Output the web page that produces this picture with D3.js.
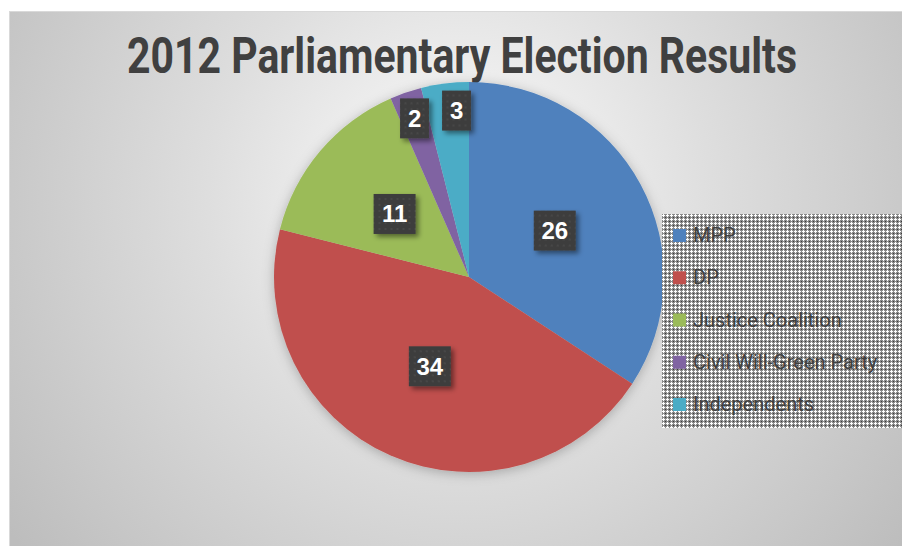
<!DOCTYPE html>
<html>
<head>
<meta charset="utf-8">
<script src="https://cdn.jsdelivr.net/npm/d3@7"></script>
<style>
  body { margin: 0; background: #fff; }
  svg { display: block; }
  .title { font-family: "Liberation Sans Narrow", "Roboto", sans-serif; font-weight: bold; fill: #404040; }
  .legendText { font-family: "Liberation Sans Narrow", "Roboto", sans-serif; fill: #404040; }
  .labelText { font-family: "Liberation Sans", "Roboto", sans-serif; font-weight: bold; fill: #fff; }
</style>
</head>
<body>
<div id="chart"></div>
<script>
// chart data
var parties = ["MPP", "DP", "Justice Coalition", "Civil Will-Green Party", "Independents"];
var seats = [26, 34, 11, 2, 3];
var partyColors = ["#4f81bd", "#c0504d", "#9bbb59", "#8064a2", "#4bacc6"];
var chartTitle = "2012 Parliamentary Election Results";

var svgWidth = 902;
var svgHeight = 546;

var svg = d3.select("#chart")
  .append("svg")
  .attr("width", svgWidth)
  .attr("height", svgHeight);

var defs = svg.append("defs");

// background gradient
var bg = defs.append("radialGradient")
  .attr("id", "bgGrad")
  .attr("gradientUnits", "userSpaceOnUse")
  .attr("cx", 460).attr("cy", 200).attr("r", 560);
bg.append("stop").attr("offset", "0%").attr("stop-color", "#fdfdfd");
bg.append("stop").attr("offset", "45%").attr("stop-color", "#dedede");
bg.append("stop").attr("offset", "100%").attr("stop-color", "#bdbdbd");

// legend dither pattern
var pat = defs.append("pattern")
  .attr("id", "dither")
  .attr("patternUnits", "userSpaceOnUse")
  .attr("width", 4).attr("height", 4);
pat.append("rect").attr("width", 4).attr("height", 4).attr("fill", "#8a8a8a");
pat.append("rect").attr("x", 1).attr("y", 0).attr("width", 1).attr("height", 3).attr("fill", "#fff");
pat.append("rect").attr("x", 0).attr("y", 1).attr("width", 3).attr("height", 1).attr("fill", "#fff");
pat.append("rect").attr("x", 3).attr("y", 3).attr("width", 1).attr("height", 1).attr("fill", "#3a3a3a");

// label box texture
var lpat = defs.append("pattern")
  .attr("id", "boxTex")
  .attr("patternUnits", "userSpaceOnUse")
  .attr("width", 6).attr("height", 6);
lpat.append("rect").attr("width", 6).attr("height", 6).attr("fill", "#3d3d3d");
lpat.append("circle").attr("cx", 3).attr("cy", 3).attr("r", 1.2).attr("fill", "#474747");

var shadow = defs.append("filter").attr("id", "shadow")
  .attr("x", "-30%").attr("y", "-30%").attr("width", "170%").attr("height", "170%");
shadow.append("feDropShadow")
  .attr("dx", 3).attr("dy", 3).attr("stdDeviation", 2.5)
  .attr("flood-color", "#000").attr("flood-opacity", 0.45);

var pieShadow = defs.append("filter").attr("id", "pieShadow")
  .attr("x", "-20%").attr("y", "-20%").attr("width", "140%").attr("height", "140%");
pieShadow.append("feDropShadow")
  .attr("dx", 0).attr("dy", 2).attr("stdDeviation", 6)
  .attr("flood-color", "#000").attr("flood-opacity", 0.25);

// chart area
svg.append("rect")
  .attr("x", 9.5).attr("y", 11.5)
  .attr("width", svgWidth).attr("height", svgHeight)
  .attr("fill", "url(#bgGrad)")
  .attr("stroke", "#d9d9d9");

// title, squeezed horizontally like a condensed face
var titleGroup = svg.append("g");
var title = titleGroup.append("text")
  .attr("class", "title")
  .attr("text-anchor", "middle")
  .style("font-size", "50px")
  .text(chartTitle);
var titleW = title.node().getComputedTextLength();
titleGroup.attr("transform", `translate(462, 73) scale(${670 / titleW}, 1)`);

// pie
var cx = 469, cy = 277, radius = 195;

var pie = d3.pie().sort(null).value(d => d.value);
var data = parties.map((p, i) => ({ name: p, value: seats[i], color: partyColors[i] }));
var arcs = pie(data);

var arc = d3.arc().innerRadius(0).outerRadius(radius);
var inner = d3.arc().innerRadius(radius * 0.5).outerRadius(radius * 0.5);
var outer = d3.arc().innerRadius(radius * 0.86).outerRadius(radius * 0.86);

var pieGroup = svg.append("g")
  .attr("transform", `translate(${cx}, ${cy})`);

pieGroup.append("g")
  .attr("filter", "url(#pieShadow)")
  .selectAll("path")
  .data(arcs)
  .enter()
  .append("path")
  .attr("d", arc)
  .attr("fill", d => d.data.color);

// data labels: small slices go near the rim
var labels = arcs.map(function(d) {
  var small = (d.endAngle - d.startAngle) < 0.4;
  var c = small ? outer.centroid(d) : inner.centroid(d);
  var w = String(d.data.value).length > 1 ? 42 : 29;
  return { x: c[0], y: c[1], w: w, h: 40, text: d.data.value, small: small };
});
// keep neighbouring small labels from crowding
for (var i = 1; i < labels.length; i++) {
  var a = labels[i - 1], b = labels[i];
  if (a.small && b.small) {
    var minX = a.x + a.w / 2 + 13 + b.w / 2;
    if (b.x < minX) b.x = minX;
  }
}

var lab = pieGroup.selectAll(".dataLabel")
  .data(labels)
  .enter()
  .append("g")
  .attr("class", "dataLabel")
  .attr("transform", d => `translate(${d.x}, ${d.y})`);

lab.append("rect")
  .attr("x", d => -d.w / 2)
  .attr("y", d => -d.h / 2)
  .attr("width", d => d.w)
  .attr("height", d => d.h)
  .attr("fill", "url(#boxTex)")
  .attr("filter", "url(#shadow)");

lab.append("text")
  .attr("class", "labelText")
  .attr("text-anchor", "middle")
  .attr("y", 8.5)
  .style("font-size", "24px")
  .text(d => d.text);

// legend
var legend = svg.append("g")
  .attr("transform", "translate(662, 214)");

legend.append("rect")
  .attr("width", 250)
  .attr("height", 214)
  .attr("fill", "url(#dither)");

var rows = legend.selectAll(".legendRow")
  .data(data)
  .enter()
  .append("g")
  .attr("class", "legendRow")
  .attr("transform", (d, i) => `translate(11, ${15 + i * 42.25})`);

rows.append("rect")
  .attr("width", 13)
  .attr("height", 13)
  .attr("fill", d => d.color);

rows.append("text")
  .attr("class", "legendText")
  .attr("x", 20)
  .attr("y", 13)
  .style("font-size", "20px")
  .text(d => d.name);
</script>
</body>
</html>
